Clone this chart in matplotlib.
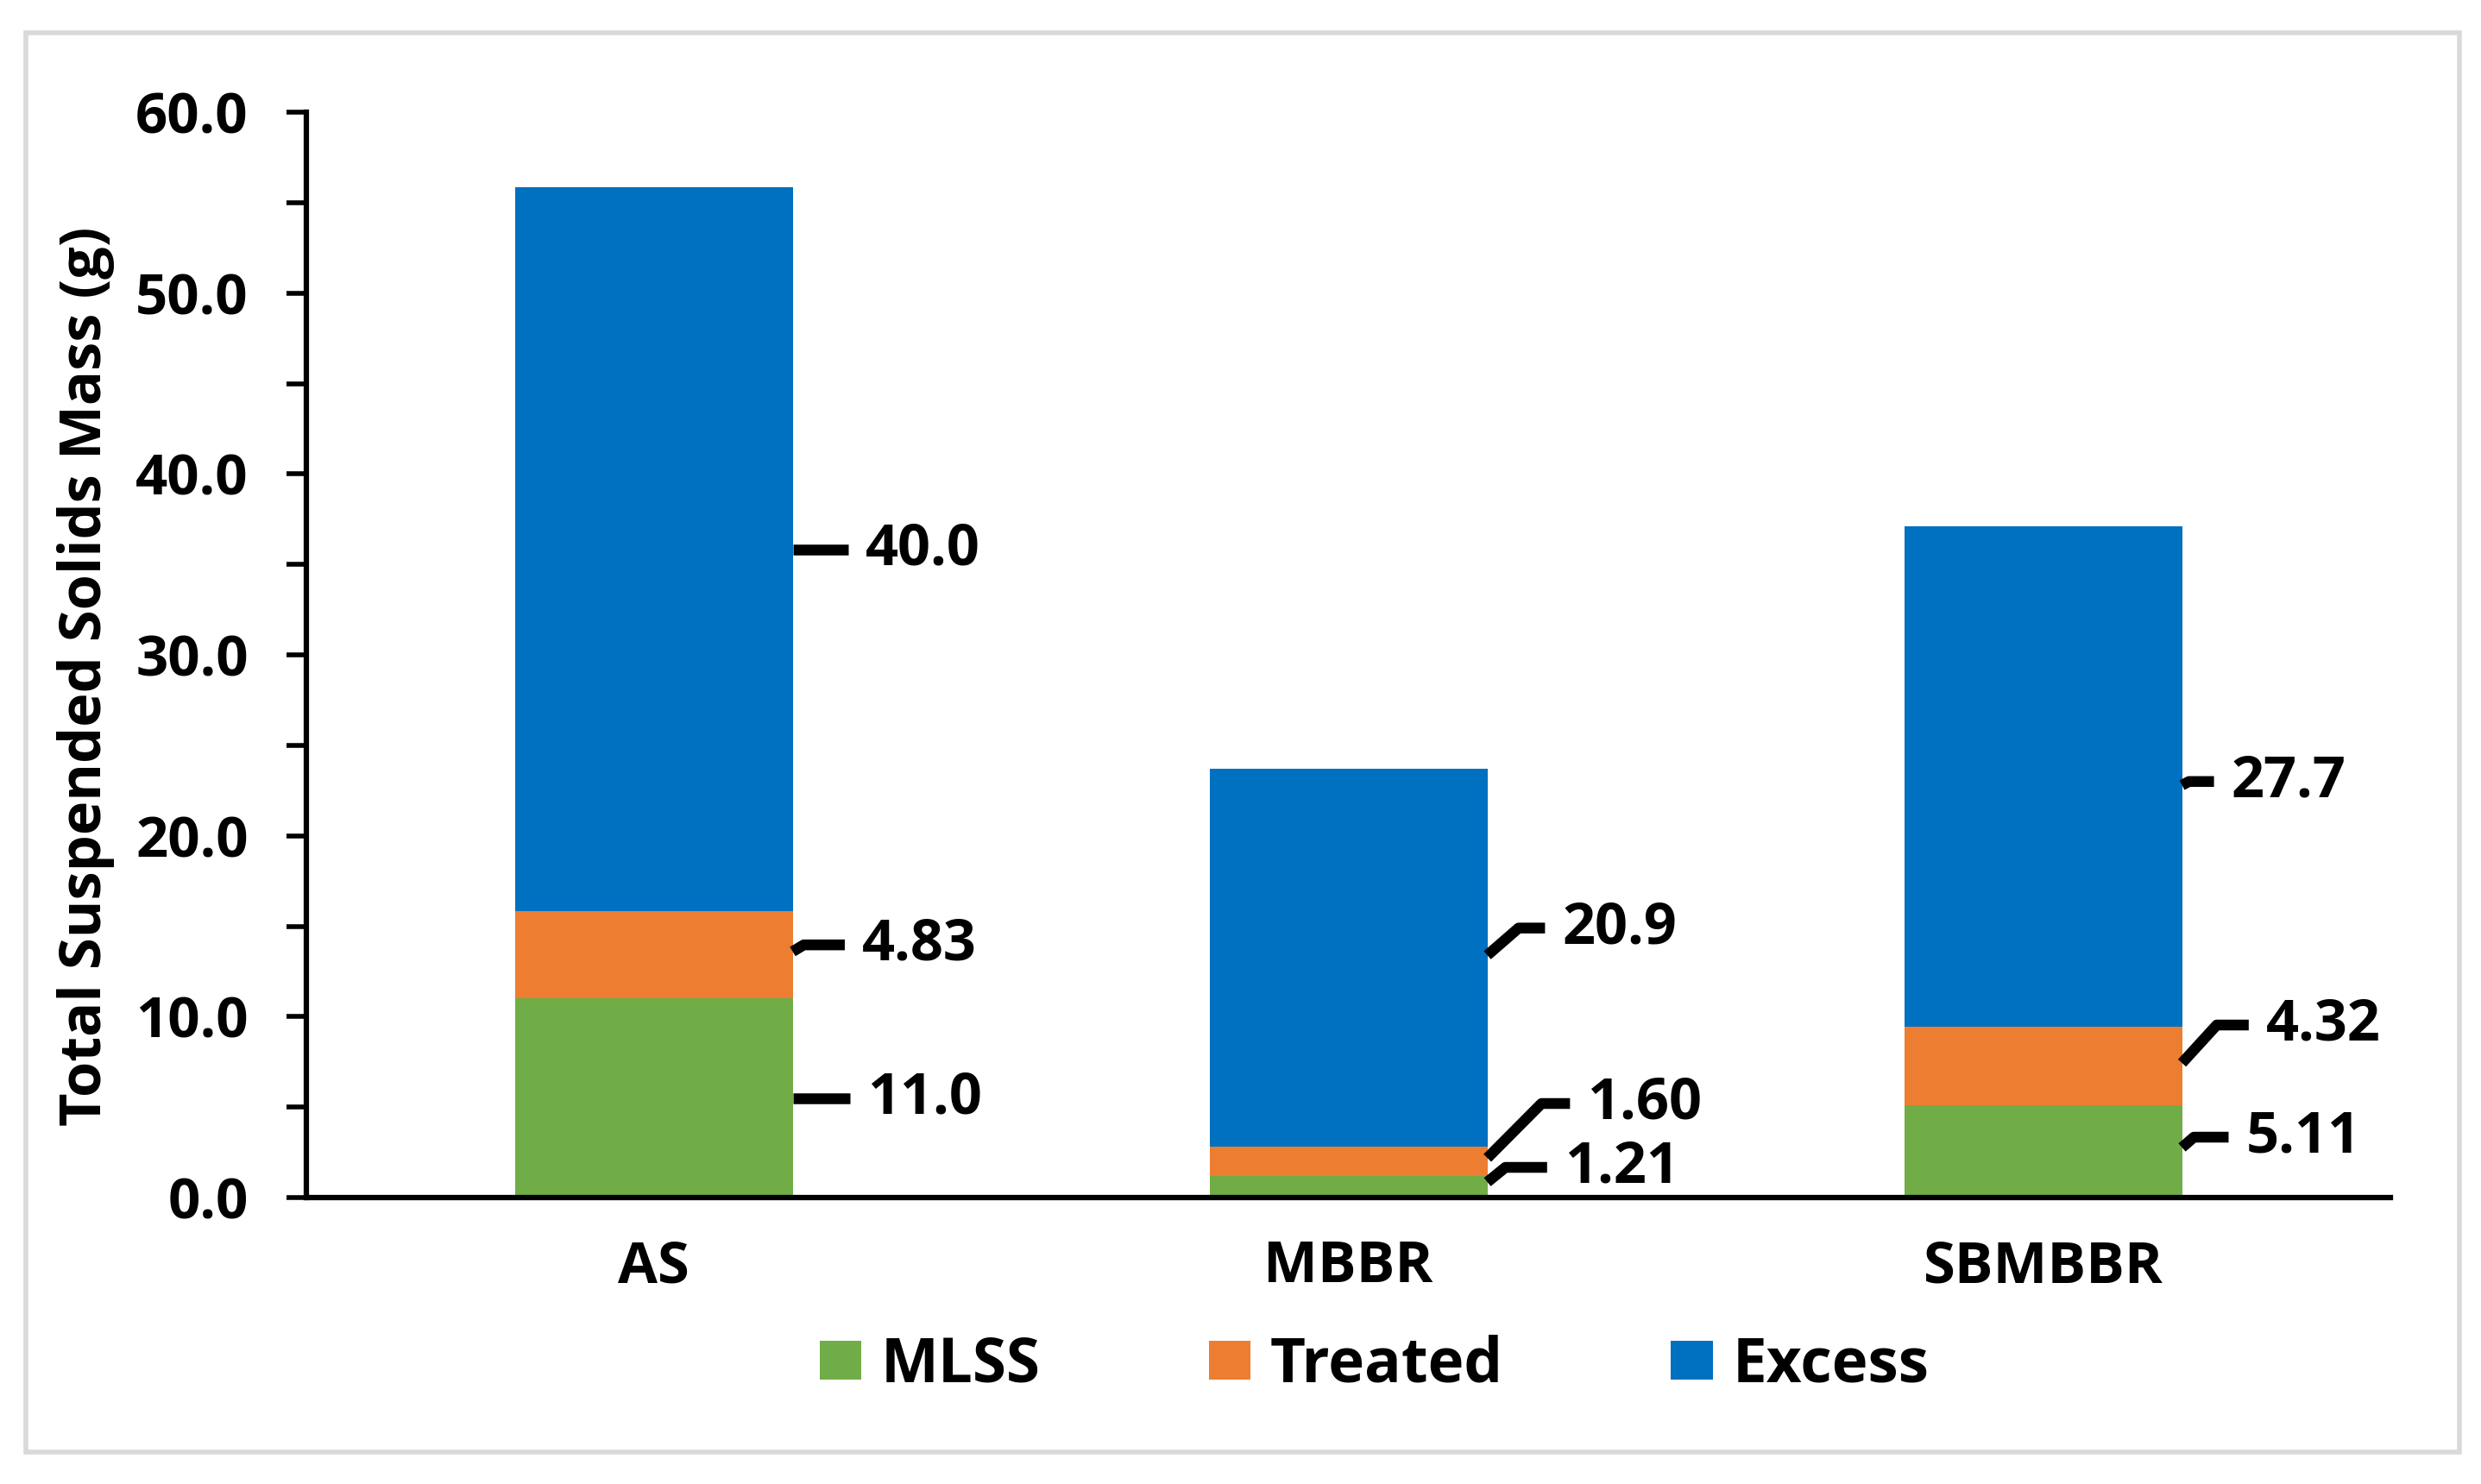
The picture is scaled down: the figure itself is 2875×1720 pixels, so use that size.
import matplotlib.pyplot as plt
from matplotlib.patches import Rectangle
from matplotlib.ticker import MultipleLocator, FormatStrFormatter

# dados
reactors = ['AS', 'MBBR', 'SBMBBR']
mlss = [11.0, 1.21, 5.11]
treated = [4.83, 1.60, 4.32]
excess = [40.0, 20.9, 27.7]

# rótulos (como aparecem) e posição das linhas de chamada
label_txt = [['11.0', '4.83', '40.0'],
             ['1.21', '1.60', '20.9'],
             ['5.11', '4.32', '27.7']]
anchor_y = [[5.48, 13.6, 35.8], [0.86, 2.19, 13.4], [2.77, 7.44, 22.8]]
text_y = [[5.48, 13.97, 35.8], [1.67, 5.2, 14.9], [3.34, 9.54, 23.0]]
elbow_dx = [[0.0, 0.016, 0.0], [0.026, 0.078, 0.045], [0.017, 0.05, 0.01]]
end_dx = [[0.082, 0.075, 0.08], [0.086, 0.119, 0.083], [0.067, 0.096, 0.046]]

plt.rcParams['font.family'] = ['Open Sans', 'DejaVu Sans']
plt.rcParams['font.weight'] = 'bold'

fig = plt.figure(figsize=(28.75, 17.2), dpi=100)
ax = fig.add_axes([0.1235, 0.193, 0.840, 0.7314])

x = range(len(reactors))
w = 0.4
c_mlss, c_trt, c_exc = '#70AD47', '#ED7D31', '#0070C0'
ax.bar(x, mlss, width=w, color=c_mlss, label='MLSS')
ax.bar(x, treated, width=w, bottom=mlss, color=c_trt, label='Treated')
bot = [a + b for a, b in zip(mlss, treated)]
ax.bar(x, excess, width=w, bottom=bot, color=c_exc, label='Excess')

# rótulos com linhas de chamada
for i in x:
    xe = i + w / 2
    for j in range(3):
        ya, yt = anchor_y[i][j], text_y[i][j]
        ax.plot([xe, xe + elbow_dx[i][j], xe + end_dx[i][j]], [ya, yt, yt],
                color='black', lw=9, solid_capstyle='butt', clip_on=False)
        ax.text(xe + end_dx[i][j] + 0.025, yt, label_txt[i][j], fontsize=48,
                fontweight='bold', va='center', ha='left')

ax.set_xlim(-0.5, 2.5)
ax.set_ylim(0, 60)
ax.yaxis.set_major_locator(MultipleLocator(10))
ax.yaxis.set_minor_locator(MultipleLocator(5))
ax.yaxis.set_major_formatter(FormatStrFormatter('%.1f'))
ax.tick_params(axis='y', which='both', direction='out', length=16.5, width=4,
               labelsize=47, pad=32)
ax.tick_params(axis='x', length=0, labelsize=48, pad=34)
ax.set_xticks(list(x))
ax.set_xticklabels(reactors, fontweight='bold')
for lb in ax.get_yticklabels():
    lb.set_fontweight('bold')

for s in ['top', 'right']:
    ax.spines[s].set_visible(False)
for s in ['left', 'bottom']:
    ax.spines[s].set_linewidth(4.5)

ax.set_ylabel('Total Suspended Solids Mass (g)', fontsize=48, fontweight='bold')
ax.yaxis.set_label_coords(-0.092, 0.48)

ax.legend(loc='center', bbox_to_anchor=(0.554, 0.080), bbox_transform=fig.transFigure,
          ncol=3, frameon=False, fontsize=51, handlelength=0.68, handleheight=0.6,
          columnspacing=2.75, handletextpad=0.32)

# borda cinza da figura
fig.patches.append(Rectangle((0.0104, 0.0215), 0.9809, 0.9565, transform=fig.transFigure,
                             fill=False, edgecolor='#D9D9D9', lw=4))

plt.savefig('out.png', dpi=100)
